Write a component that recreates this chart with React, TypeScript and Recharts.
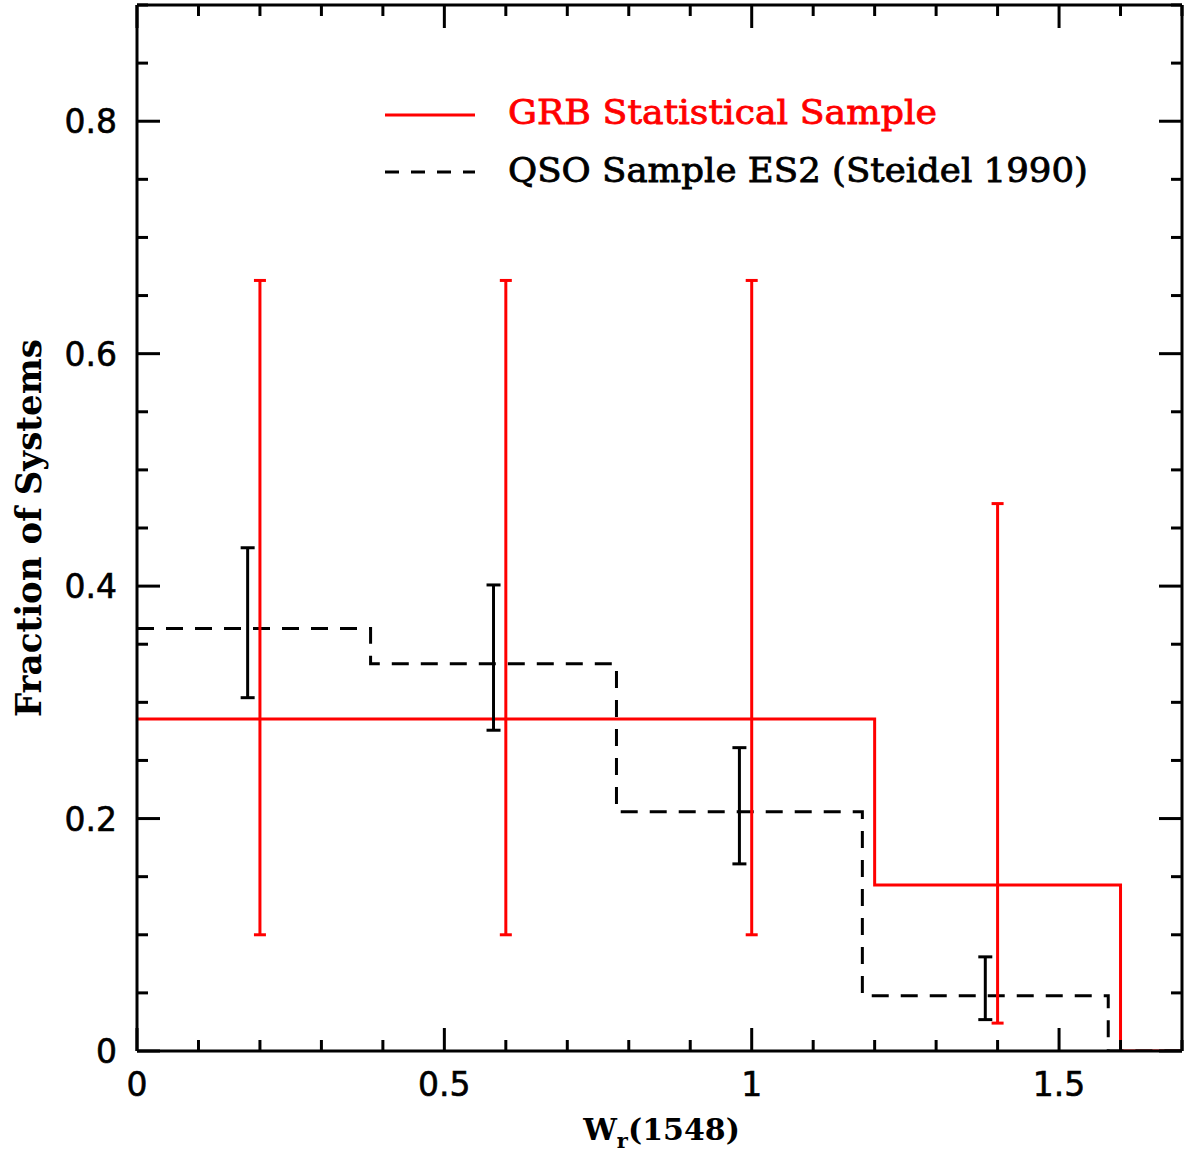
import { ComposedChart, Line, Scatter, ErrorBar, XAxis, YAxis, Legend } from "recharts"

// bin edges (W_r) and fraction per bin; last point repeats to close the final step
const grbX = [0, 1.2, 1.6, 1.7]
const grbY = [0.2857, 0.1429, 0, 0]
const qsoX = [0, 0.38, 0.78, 1.18, 1.58, 1.7]
const qsoY = [0.3636, 0.3333, 0.2059, 0.0476, 0, 0]

// error bars
const grbErrX = [0.2, 0.6, 1.0, 1.4]
const grbErrMid = [0.2857, 0.2857, 0.2857, 0.1429]
const grbErrLo = [0.1, 0.1, 0.1, 0.024]
const grbErrHi = [0.663, 0.663, 0.663, 0.471]
const qsoErrX = [0.18, 0.58, 0.98, 1.38]
const qsoErrMid = [0.3636, 0.3333, 0.2059, 0.0476]
const qsoErrLo = [0.304, 0.276, 0.161, 0.027]
const qsoErrHi = [0.433, 0.401, 0.261, 0.081]

const xTicks = [0, 0.1, 0.2, 0.3, 0.4, 0.5, 0.6, 0.7, 0.8, 0.9, 1, 1.1, 1.2, 1.3, 1.4, 1.5, 1.6, 1.7]
const yTicks = [0, 0.05, 0.1, 0.15, 0.2, 0.25, 0.3, 0.35, 0.4, 0.45, 0.5, 0.55, 0.6, 0.65, 0.7, 0.75, 0.8, 0.85, 0.9]
const xMajor = [0, 0.5, 1, 1.5]
const yMajor = [0, 0.2, 0.4, 0.6, 0.8]

const grbLine = grbX.map((x, i) => ({ x, y: grbY[i] }))
const qsoLine = qsoX.map((x, i) => ({ x, y: qsoY[i] }))
const grbErr = grbErrX.map((x, i) => ({ x, y: grbErrMid[i], err: [grbErrMid[i] - grbErrLo[i], grbErrHi[i] - grbErrMid[i]] }))
const qsoErr = qsoErrX.map((x, i) => ({ x, y: qsoErrMid[i], err: [qsoErrMid[i] - qsoErrLo[i], qsoErrHi[i] - qsoErrMid[i]] }))

const isMajor = (v, list) => list.some((m) => Math.abs(m - v) < 1e-6)
const tickFont = "'DejaVu Sans', sans-serif"
const labelFont = "'DejaVu Serif', serif"

function makeTick(side) {
  return (props) => {
    const { x, y, payload } = props
    const v = payload.value
    const major = side === "bottom" || side === "top" ? isMajor(v, xMajor) : isMajor(v, yMajor)
    const len = major ? 23 : 11
    if (side === "bottom") {
      return (
        <g>
          <line x1={x} y1={y} x2={x} y2={y - len} stroke="#000" strokeWidth={3} />
          {major && (
            <text x={x} y={y + 45} textAnchor="middle" fontFamily={tickFont} fontSize={33} fill="#000" stroke="#000" strokeWidth={0.6}>
              {String(v)}
            </text>
          )}
        </g>
      )
    }
    if (side === "top") {
      return <line x1={x} y1={y} x2={x} y2={y + len} stroke="#000" strokeWidth={3} />
    }
    if (side === "left") {
      return (
        <g>
          <line x1={x} y1={y} x2={x + len} y2={y} stroke="#000" strokeWidth={3} />
          {major && (
            <text x={x - 20} y={y + 12} textAnchor="end" fontFamily={tickFont} fontSize={33} fill="#000" stroke="#000" strokeWidth={0.6}>
              {String(v)}
            </text>
          )}
        </g>
      )
    }
    return <line x1={x} y1={y} x2={x - len} y2={y} stroke="#000" strokeWidth={3} />
  }
}

function LegendBox() {
  return (
    <svg width={740} height={120} style={{ display: "block" }}>
      <line x1={5} y1={35} x2={95} y2={35} stroke="#ff0000" strokeWidth={3} />
      <text x={128} y={44} fontFamily={labelFont} fontSize={34} fill="#ff0000" stroke="#ff0000" strokeWidth={0.8} textLength={429} lengthAdjust="spacingAndGlyphs">
        GRB Statistical Sample
      </text>
      <line x1={5} y1={92} x2={95} y2={92} stroke="#000" strokeWidth={3} strokeDasharray="14 12" />
      <text x={128} y={102} fontFamily={labelFont} fontSize={34} fill="#000" stroke="#000" strokeWidth={0.8} textLength={580} lengthAdjust="spacingAndGlyphs">
        QSO Sample ES2 (Steidel 1990)
      </text>
    </svg>
  )
}

export default function App() {
  return (
    <div style={{ position: "absolute", left: 0, top: 0, background: "#fff" }}>
      <ComposedChart width={1184} height={1157} margin={{ top: 4, right: 1, bottom: 46, left: 37 }}>
        <XAxis
          dataKey="x"
          type="number"
          domain={[0, 1.7]}
          ticks={xTicks}
          interval={0}
          tickSize={0}
          tickMargin={0}
          tick={makeTick("bottom")}
          axisLine={{ stroke: "#000", strokeWidth: 3 }}
          height={60}
          allowDataOverflow
          label={{
            content: (p) => {
              const vb = p.viewBox
              return (
                <text x={vb.x + vb.width / 2 + 2} y={vb.y + 89} textAnchor="middle" fontFamily={labelFont} fontWeight="bold" fontSize={30} fill="#000">
                  W<tspan fontSize={21} dy={8}>r</tspan>
                  <tspan dy={-8}>(1548)</tspan>
                </text>
              )
            },
          }}
        />
        <XAxis
          xAxisId="top"
          orientation="top"
          dataKey="x"
          type="number"
          domain={[0, 1.7]}
          ticks={xTicks}
          interval={0}
          tickSize={0}
          tickMargin={0}
          tick={makeTick("top")}
          axisLine={{ stroke: "#000", strokeWidth: 3 }}
          height={1}
          allowDataOverflow
        />
        <YAxis
          type="number"
          domain={[0, 0.9]}
          ticks={yTicks}
          interval={0}
          tickSize={0}
          tickMargin={0}
          tick={makeTick("left")}
          axisLine={{ stroke: "#000", strokeWidth: 3 }}
          width={100}
          allowDataOverflow
          label={{
            content: (p) => {
              const vb = p.viewBox
              const cx = 41
              const cy = vb.y + vb.height / 2
              return (
                <text x={cx} y={cy} transform={`rotate(-90 ${cx} ${cy})`} textAnchor="middle" fontFamily={labelFont} fontWeight="bold" fontSize={36} fill="#000" textLength={378} lengthAdjust="spacingAndGlyphs">
                  Fraction of Systems
                </text>
              )
            },
          }}
        />
        <YAxis
          yAxisId="right"
          orientation="right"
          type="number"
          domain={[0, 0.9]}
          ticks={yTicks}
          interval={0}
          tickSize={0}
          tickMargin={0}
          tick={makeTick("right")}
          axisLine={{ stroke: "#000", strokeWidth: 3 }}
          width={1}
          allowDataOverflow
        />
        <Legend
          layout="horizontal"
          verticalAlign="middle"
          align="center"
          content={() => <LegendBox />}
          wrapperStyle={{ position: "absolute", left: 380, top: 80, width: 740, height: 120 }}
        />
        <Line data={grbLine} dataKey="y" type="stepAfter" stroke="#ff0000" strokeWidth={3} dot={false} activeDot={false} isAnimationActive={false} />
        <Line data={qsoLine} dataKey="y" type="stepAfter" stroke="#000" strokeWidth={3} strokeDasharray="17 12" dot={false} activeDot={false} isAnimationActive={false} />
        <Scatter data={grbErr} dataKey="y" shape={() => <g />} isAnimationActive={false}>
          <ErrorBar dataKey="err" direction="y" width={6} stroke="#ff0000" strokeWidth={3} isAnimationActive={false} />
        </Scatter>
        <Scatter data={qsoErr} dataKey="y" shape={() => <g />} isAnimationActive={false}>
          <ErrorBar dataKey="err" direction="y" width={7} stroke="#000" strokeWidth={3} isAnimationActive={false} />
        </Scatter>
      </ComposedChart>
    </div>
  )
}
